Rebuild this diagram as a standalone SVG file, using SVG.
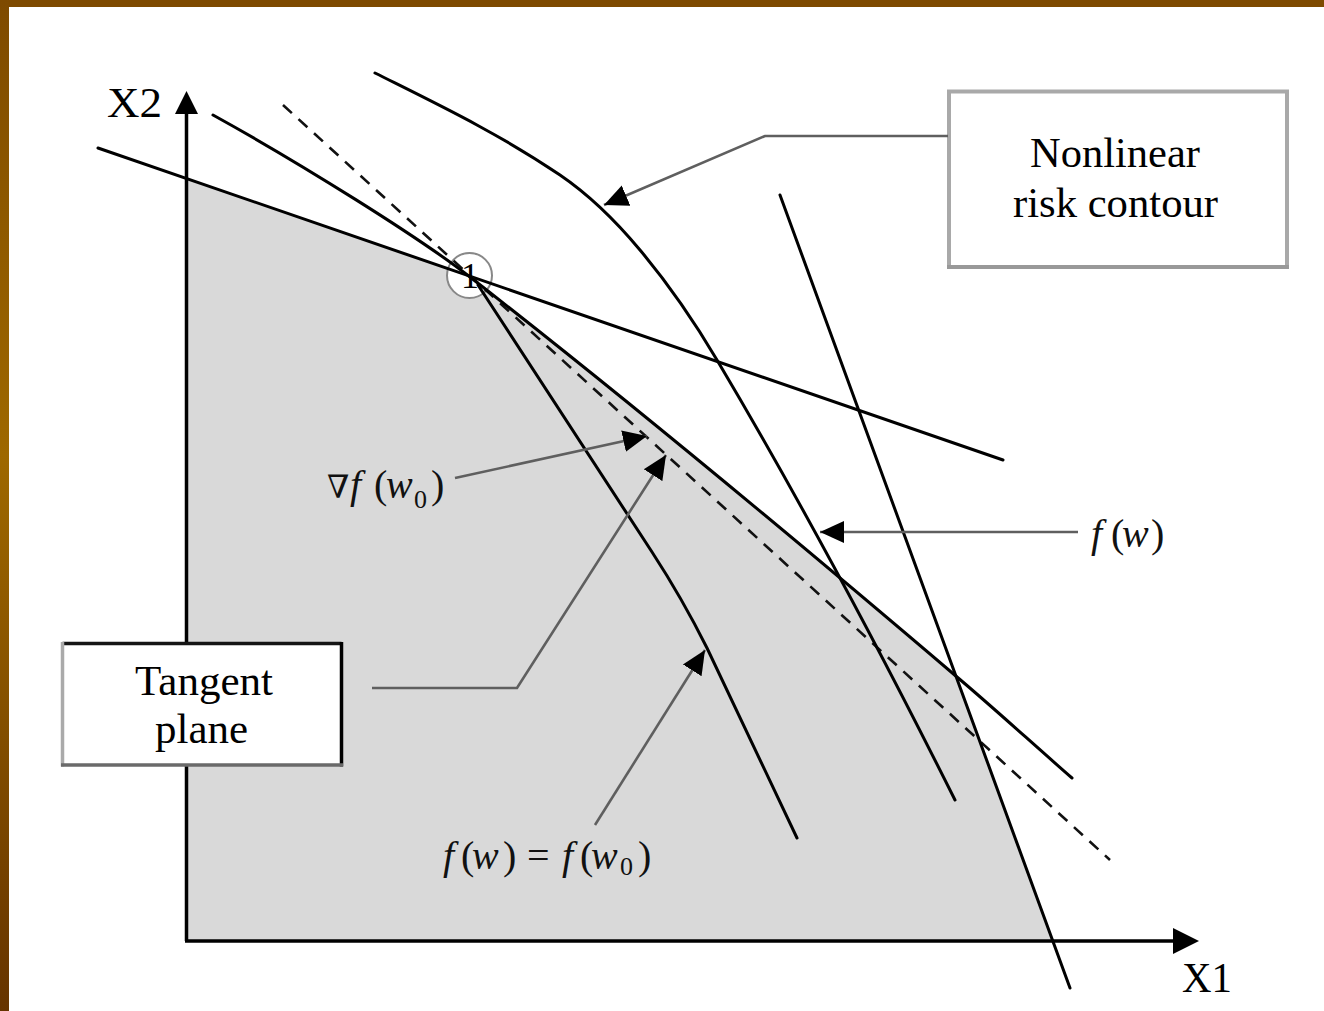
<svg xmlns="http://www.w3.org/2000/svg" width="1324" height="1011" viewBox="0 0 1324 1011">
<style>
.ln{fill:none;stroke:#000;stroke-width:3;stroke-linecap:round;stroke-linejoin:round}
.dash{fill:none;stroke:#111;stroke-width:2.6;stroke-dasharray:12 9}
.ax{fill:none;stroke:#000;stroke-width:3.5}
.con{fill:none;stroke:#5f5f5f;stroke-width:2.6;stroke-linejoin:miter}
.t{font-family:"Liberation Serif","DejaVu Serif",serif;fill:#000}
.m{font-family:"Liberation Serif","DejaVu Serif",serif;font-size:40px;fill:#111}
.i{font-style:italic}
.sub{font-size:26px}
</style>
<defs>
<linearGradient id="brd" x1="0" y1="0" x2="0" y2="1">
<stop offset="0" stop-color="#7e4a00"/>
<stop offset="0.45" stop-color="#9e6800"/>
<stop offset="1" stop-color="#663400"/>
</linearGradient>
<marker id="ah" markerUnits="userSpaceOnUse" markerWidth="25" markerHeight="24" refX="24" refY="12" orient="auto" viewBox="0 0 25 24">
<path d="M0,1 L24,12 L0,23 Z" fill="#000"/>
</marker>
</defs>
<rect x="0" y="0" width="1324" height="1011" fill="#fff"/>
<rect x="0" y="0" width="1324" height="7" fill="#7e4a00"/>
<rect x="0" y="0" width="9" height="1011" fill="url(#brd)"/>

<g id="region">
<path d="M186,178 L470,276.5 C632,403.4 795,539.3 957,677 L1052,940 L186,940 Z" fill="#d9d9d9"/>
</g>

<g id="axes">
<path class="ax" d="M186.5,941 L186.5,112"/>
<polygon points="186.5,91 175,114 198,114" fill="#000"/>
<path class="ax" d="M185,941 L1175,941"/>
<polygon points="1199,941 1173,928 1173,954" fill="#000"/>
<text class="t" x="107" y="117" font-size="42" textLength="55" lengthAdjust="spacingAndGlyphs">X2</text>
<text class="t" x="1182" y="992" font-size="42" textLength="50" lengthAdjust="spacingAndGlyphs">X1</text>
</g>

<g id="point1">
<circle cx="469.5" cy="275.5" r="22.5" fill="#fff" stroke="#888" stroke-width="2"/>
</g>

<g id="curves">
<path id="lineA" class="ln" d="M98,148 L1003,460"/>
<path id="tangentDashed" class="dash" d="M283,105 L1110,860"/>
<path id="fw" class="ln" d="M213,115 C300,163 420,238 470,277 C632,403 795,539 957,677 C995,709 1034,745 1072,778"/>
<path id="nonlinear" class="ln" d="M375,73 C437,104 498,133 560,175 C587,193.4 613,217.6 640,250 C666,281 691,316 717,360 C796,493 876,642 955,800"/>
<path id="fw0" class="ln" d="M478,285 L652,552 Q682,598 707,648 L797,838"/>
<path id="steep" class="ln" d="M780,195 L1070,988"/>
</g>

<g id="label1">
<text class="t" x="470" y="288" font-size="36" text-anchor="middle">1</text>
</g>

<g id="tangent-box">
<rect x="62.5" y="643.5" width="279" height="121.5" fill="#fff"/>
<line x1="62.5" y1="643.5" x2="341.5" y2="643.5" stroke="#151515" stroke-width="3.5"/>
<line x1="341.5" y1="642" x2="341.5" y2="766.5" stroke="#000" stroke-width="3.5"/>
<line x1="62.5" y1="642" x2="62.5" y2="766.5" stroke="#aaa" stroke-width="3.5"/>
<line x1="61" y1="765" x2="343" y2="765" stroke="#6a6a6a" stroke-width="3.5"/>
<text class="t" x="204" y="695" font-size="42" text-anchor="middle" textLength="138" lengthAdjust="spacingAndGlyphs">Tangent</text>
<text class="t" x="201.5" y="743" font-size="42" text-anchor="middle" textLength="93" lengthAdjust="spacingAndGlyphs">plane</text>
</g>

<g id="nonlinear-box">
<rect x="949" y="91.5" width="338" height="175.5" fill="#fff" stroke="#a9a9a9" stroke-width="4"/>
<line x1="947" y1="267" x2="1289" y2="267" stroke="#999" stroke-width="4"/>
<text class="t" x="1115" y="167" font-size="42" text-anchor="middle" textLength="170" lengthAdjust="spacingAndGlyphs">Nonlinear</text>
<text class="t" x="1115.5" y="217" font-size="42" text-anchor="middle" textLength="205" lengthAdjust="spacingAndGlyphs">risk contour</text>
</g>

<g id="connectors">
<path class="con" d="M948,136 L765,136 L604,205" marker-end="url(#ah)"/>
<path class="con" d="M372,688 L517,688 L666,455" marker-end="url(#ah)"/>
<path class="con" d="M455,478 L647,436" marker-end="url(#ah)"/>
<path class="con" d="M1078,532 L820,532" marker-end="url(#ah)"/>
<path class="con" d="M595,825 L705,650" marker-end="url(#ah)"/>
</g>

<g id="math-labels">
<text class="m" y="498"><tspan x="327" font-size="32">∇</tspan><tspan x="350" class="i">f</tspan><tspan x="374">(</tspan><tspan x="386" class="i">w</tspan><tspan x="414" dy="10" class="sub">0</tspan><tspan x="431" dy="-10">)</tspan></text>
<text class="m" y="547"><tspan x="1091" class="i">f</tspan><tspan x="1111">(</tspan><tspan x="1122" class="i">w</tspan><tspan x="1151">)</tspan></text>
<text class="m" y="869"><tspan x="443" class="i">f</tspan><tspan x="461">(</tspan><tspan x="472" class="i">w</tspan><tspan x="503">)</tspan><tspan x="527">=</tspan><tspan x="562" class="i">f</tspan><tspan x="580">(</tspan><tspan x="591" class="i">w</tspan><tspan x="620" dy="6" class="sub">0</tspan><tspan x="638" dy="-6">)</tspan></text>
</g>
</svg>
